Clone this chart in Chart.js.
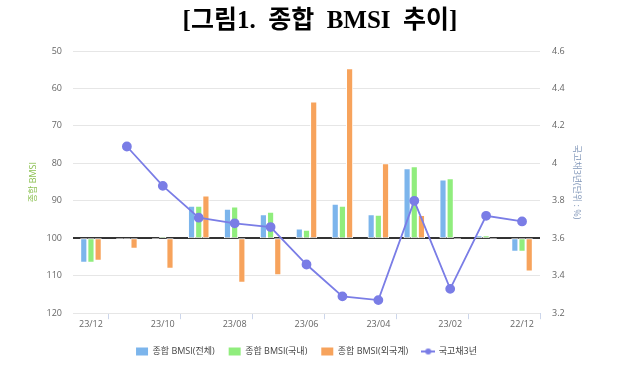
<!DOCTYPE html>
<html>
<head>
<meta charset="utf-8">
<script src="https://cdn.jsdelivr.net/npm/chart.js@4"></script>
<style>
  html, body { margin: 0; padding: 0; background: #fff; }
  #wrap { width: 640px; height: 366px; }
</style>
</head>
<body>
<div id="wrap"><canvas id="bmsiChart"></canvas></div>
<script>
// months, newest first (x axis runs 23/12 -> 22/12)
const months = ['23/12', '23/11', '23/10', '23/09', '23/08', '23/07', '23/06', '23/05', '23/04', '23/03', '23/02', '23/01', '22/12'];

// BMSI values (left axis, inverted, bars hang from 100)
const bmsiTotal    = [106.5, 100.3, 100.2, 91.3, 92.1, 93.6, 97.4, 90.8, 93.6, 81.3, 84.3, 99.2, 103.6];
const bmsiDomestic = [106.5, 100.3,  99.4, 91.3, 91.5, 92.9, 97.7, 91.3, 93.7, 80.8, 84.0, 99.2, 103.6];
const bmsiForeign  = [106.0, 102.8, 108.1, 88.6, 111.9, 109.9, 63.5, 54.6, 80.0, 93.8, 100.2, 100.2, 108.9];

// 3-year treasury yield (right axis, %)
const ktb3y = [null, 4.09, 3.88, 3.71, 3.68, 3.66, 3.46, 3.29, 3.27, 3.80, 3.33, 3.72, 3.69];

const BASE = 100;
const lineColor = '#7a7de6';

Chart.defaults.font.family = "'Open Sans', 'Noto Sans CJK KR', sans-serif";
Chart.defaults.font.size = 9;
Chart.defaults.color = '#666';

// legend symbol for the line series: short line with a dot
function lineSymbol() {
  const c = document.createElement('canvas');
  c.width = 14; c.height = 8;
  const g = c.getContext('2d');
  g.strokeStyle = lineColor;
  g.lineWidth = 2;
  g.beginPath(); g.moveTo(0, 4); g.lineTo(14, 4); g.stroke();
  g.fillStyle = lineColor;
  g.beginPath(); g.arc(7, 4, 3, 0, Math.PI * 2); g.fill();
  return c;
}

const barDefaults = {
  type: 'bar',
  yAxisID: 'y',
  borderColor: '#fff',
  borderWidth: 1,
  borderSkipped: false,
  categoryPercentage: 0.6,
  barPercentage: 1.0,
  order: 1
};

new Chart(document.getElementById('bmsiChart'), {
  data: {
    labels: months,
    datasets: [
      { ...barDefaults, label: '종합 BMSI(전체)', data: bmsiTotal.map(v => [BASE, v]), backgroundColor: '#7cb5ec' },
      { ...barDefaults, label: '종합 BMSI(국내)', data: bmsiDomestic.map(v => [BASE, v]), backgroundColor: '#90ed7d' },
      { ...barDefaults, label: '종합 BMSI(외국계)', data: bmsiForeign.map(v => [BASE, v]), backgroundColor: '#f7a35c' },
      {
        type: 'line',
        label: '국고채3년',
        yAxisID: 'y1',
        data: ktb3y,
        borderColor: lineColor,
        backgroundColor: lineColor,
        borderWidth: 1.8,
        pointRadius: 4,
        pointHoverRadius: 4,
        tension: 0,
        order: 0
      }
    ]
  },
  options: {
    responsive: true,
    maintainAspectRatio: false,
    animation: false,
    layout: { padding: 0 },
    plugins: {
      title: {
        display: true,
        text: '[그림1.  종합  BMSI  추이]',
        color: '#000',
        font: { family: "'Liberation Serif', 'Noto Sans CJK KR', serif", size: 25, weight: 'bold' },
        padding: { top: 7, bottom: 14 }
      },
      legend: {
        position: 'bottom',
        fullSize: false,
        labels: {
          usePointStyle: true,
          pointStyleWidth: 12,
          boxHeight: 8,
          padding: 14,
          color: '#444',
          font: { size: 9 },
          sort: (a, b) => a.datasetIndex - b.datasetIndex,
          generateLabels: chart => chart.data.datasets.map((ds, i) => ({
            text: ds.label,
            datasetIndex: i,
            fillStyle: ds.backgroundColor,
            strokeStyle: ds.backgroundColor,
            lineWidth: 0,
            fontColor: '#444',
            hidden: !chart.isDatasetVisible(i),
            pointStyle: ds.type === 'line' ? lineSymbol() : 'rect'
          }))
        }
      },
      tooltip: { enabled: false }
    },
    scales: {
      x: {
        afterFit: s => { s.height += 3; },
        grid: {
          offset: true,
          drawOnChartArea: false,
          tickLength: 6,
          tickColor: ctx => (ctx.type !== 'tick' || ctx.index % 2 === 1) ? '#ccd6eb' : 'rgba(0,0,0,0)'
        },
        border: { display: false },
        ticks: {
          autoSkip: false,
          maxRotation: 0,
          padding: 0,
          color: '#666',
          callback: (v, i) => (i % 2 === 0 ? months[i] : '')
        }
      },
      y: {
        position: 'left',
        reverse: true,
        min: 50,
        max: 120,
        afterFit: s => { s.width = 73; },
        ticks: { stepSize: 10, padding: 11, color: '#666' },
        grid: {
          drawTicks: false,
          color: ctx => (ctx.tick && ctx.tick.value === BASE ? '#333' : '#e6e6e6'),
          lineWidth: ctx => (ctx.tick && ctx.tick.value === BASE ? 2 : 1)
        },
        border: { display: false },
        title: { display: true, text: '종합 BMSI', color: '#8cc152', font: { size: 9 }, padding: { top: 28, bottom: 4 } }
      },
      y1: {
        position: 'right',
        min: 3.2,
        max: 4.6,
        afterFit: s => { s.width = 100; },
        ticks: { stepSize: 0.2, padding: 12, color: '#666', callback: v => String(+v.toFixed(1)) },
        grid: { display: false, drawTicks: false },
        border: { display: false },
        title: { display: true, text: '국고채3년(단위 : %)', color: '#8096b8', font: { size: 9 }, padding: { top: 58, bottom: 4 } }
      }
    }
  }
});
</script>
</body>
</html>
